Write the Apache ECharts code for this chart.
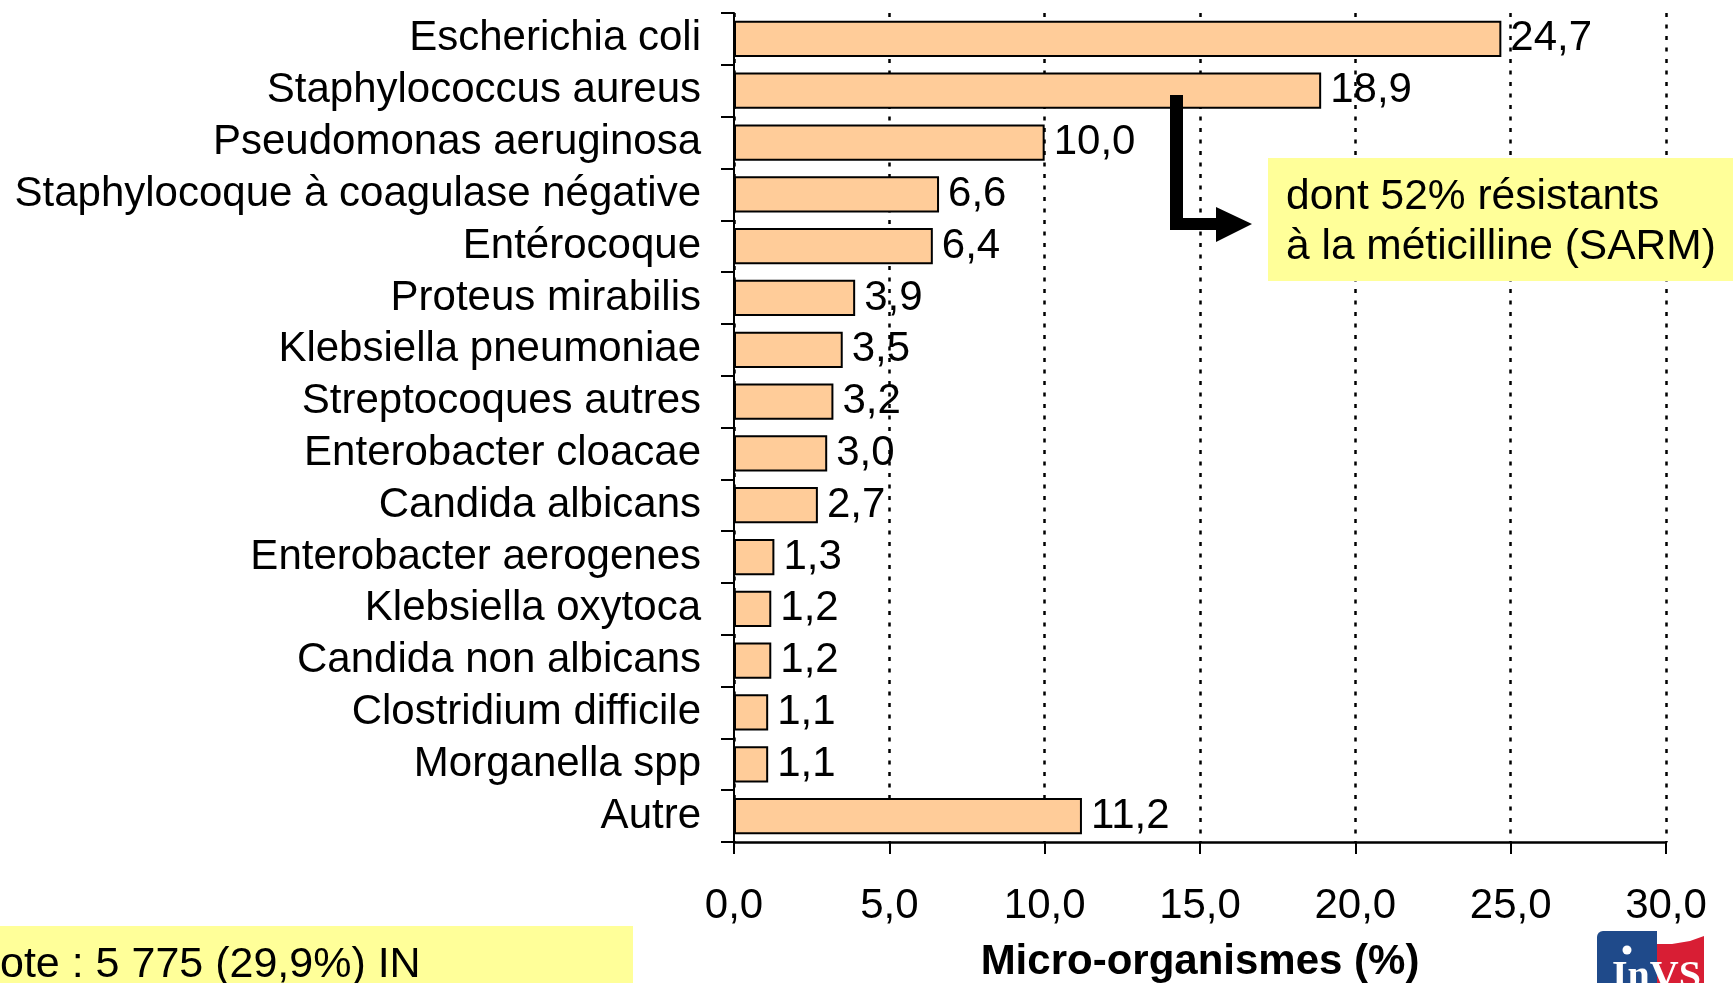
<!DOCTYPE html>
<html><head><meta charset="utf-8">
<script src="https://cdn.jsdelivr.net/npm/echarts@6/dist/echarts.min.js"></script>
<style>html,body{margin:0;padding:0;background:#fff;overflow:hidden}#c{width:1733px;height:983px}</style>
</head><body><div id="c"></div>
<script>
const categories = [
  'Escherichia coli', 'Staphylococcus aureus', 'Pseudomonas aeruginosa',
  'Staphylocoque à coagulase négative', 'Entérocoque', 'Proteus mirabilis',
  'Klebsiella pneumoniae', 'Streptocoques autres', 'Enterobacter cloacae',
  'Candida albicans', 'Enterobacter aerogenes', 'Klebsiella oxytoca',
  'Candida non albicans', 'Clostridium difficile', 'Morganella spp', 'Autre'
];
const values = [24.7, 18.9, 10.0, 6.6, 6.4, 3.9, 3.5, 3.2, 3.0, 2.7, 1.3, 1.2, 1.2, 1.1, 1.1, 11.2];
const axisMin = 0, axisMax = 30, axisStep = 5;
const axisTitle = 'Micro-organismes (%)';
const calloutLines = ['dont 52% résistants', 'à la méticilline (SARM)'];
const footNote = 'ote : 5 775 (29,9%) IN';

const FONT = '"Liberation Sans", Arial, sans-serif';
const FS = 42;
const fmt = v => Number(v).toFixed(1).replace('.', ',');

const chart = echarts.init(document.getElementById('c'), null, {renderer: 'canvas'});
chart.setOption({
  backgroundColor: '#ffffff',
  animation: false,
  textStyle: {fontFamily: FONT},
  grid: {left: 734, right: 67, top: 13, bottom: 141, containLabel: false, outerBoundsMode: 'none'},
  xAxis: {
    type: 'value', min: axisMin, max: axisMax, interval: axisStep,
    axisLine: {show: true, lineStyle: {color: '#000', width: 2.5}},
    axisTick: {show: true, length: 12, lineStyle: {color: '#000', width: 2}},
    axisLabel: {fontSize: FS, color: '#000', margin: 43, fontFamily: FONT, formatter: fmt},
    splitLine: {show: true, lineStyle: {color: '#000', width: 2.5, type: [4, 7.5]}},
    name: axisTitle, nameLocation: 'middle', nameGap: 99,
    nameTextStyle: {fontSize: FS, fontWeight: 'bold', color: '#000', fontFamily: FONT}
  },
  yAxis: {
    type: 'category', inverse: true, data: categories,
    axisLine: {show: true, lineStyle: {color: '#000', width: 2}},
    axisTick: {show: true, length: 13, lineStyle: {color: '#000', width: 2}},
    axisLabel: {interval: 0, fontSize: FS, color: '#000', margin: 33, fontFamily: FONT, padding: [11, 0, 0, 0]},
    splitLine: {show: false}
  },
  series: [{
    type: 'bar', data: values, barCategoryGap: '30%',
    itemStyle: {color: '#FFCC99', borderColor: '#000', borderWidth: 2},
    label: {show: true, position: 'right', distance: 9, fontSize: FS, color: '#000',
      fontFamily: FONT, padding: [11, 0, 0, 0], formatter: p => fmt(p.value)}
  }],
  graphic: [
    {type: 'rect', shape: {x: 1268, y: 158, width: 465, height: 123}, style: {fill: '#FFFF99'}, z: 50},
    {type: 'text', x: 1286, y: 197, style: {text: calloutLines[0], fill: '#000', font: '42.5px ' + FONT, textVerticalAlign: 'middle'}, z: 51},
    {type: 'text', x: 1286, y: 247, style: {text: calloutLines[1], fill: '#000', font: '42.5px ' + FONT, textVerticalAlign: 'middle'}, z: 51},
    {type: 'polygon', shape: {points: [[1170, 95], [1183, 95], [1183, 218], [1216, 218], [1216, 207], [1252, 224], [1216, 242], [1216, 230], [1170, 230]]}, style: {fill: '#000'}, z: 52},
    {type: 'rect', shape: {x: 0, y: 926, width: 633, height: 57}, style: {fill: '#FFFF99'}, z: 50},
    {type: 'text', x: 0, y: 965, style: {text: footNote, fill: '#000', font: '43px ' + FONT, textVerticalAlign: 'middle'}, z: 51},
    {type: 'rect', shape: {x: 1597, y: 931, width: 60, height: 52, r: [6, 0, 0, 0]}, style: {fill: '#1F4A8A'}, z: 50},
    {type: 'polygon', shape: {points: [[1657, 944], [1672, 944], [1690, 941], [1704, 936], [1704, 983], [1657, 983]]}, style: {fill: '#D81E34'}, z: 50},
    {type: 'circle', shape: {cx: 1627, cy: 950, r: 4.5}, style: {fill: '#fff'}, z: 51},
    {type: 'text', x: 1612, y: 958, style: {text: 'InVS', fill: '#fff', font: 'bold 40px "Liberation Serif", serif', textVerticalAlign: 'top'}, z: 51}
  ]
});
</script>
</body></html>
